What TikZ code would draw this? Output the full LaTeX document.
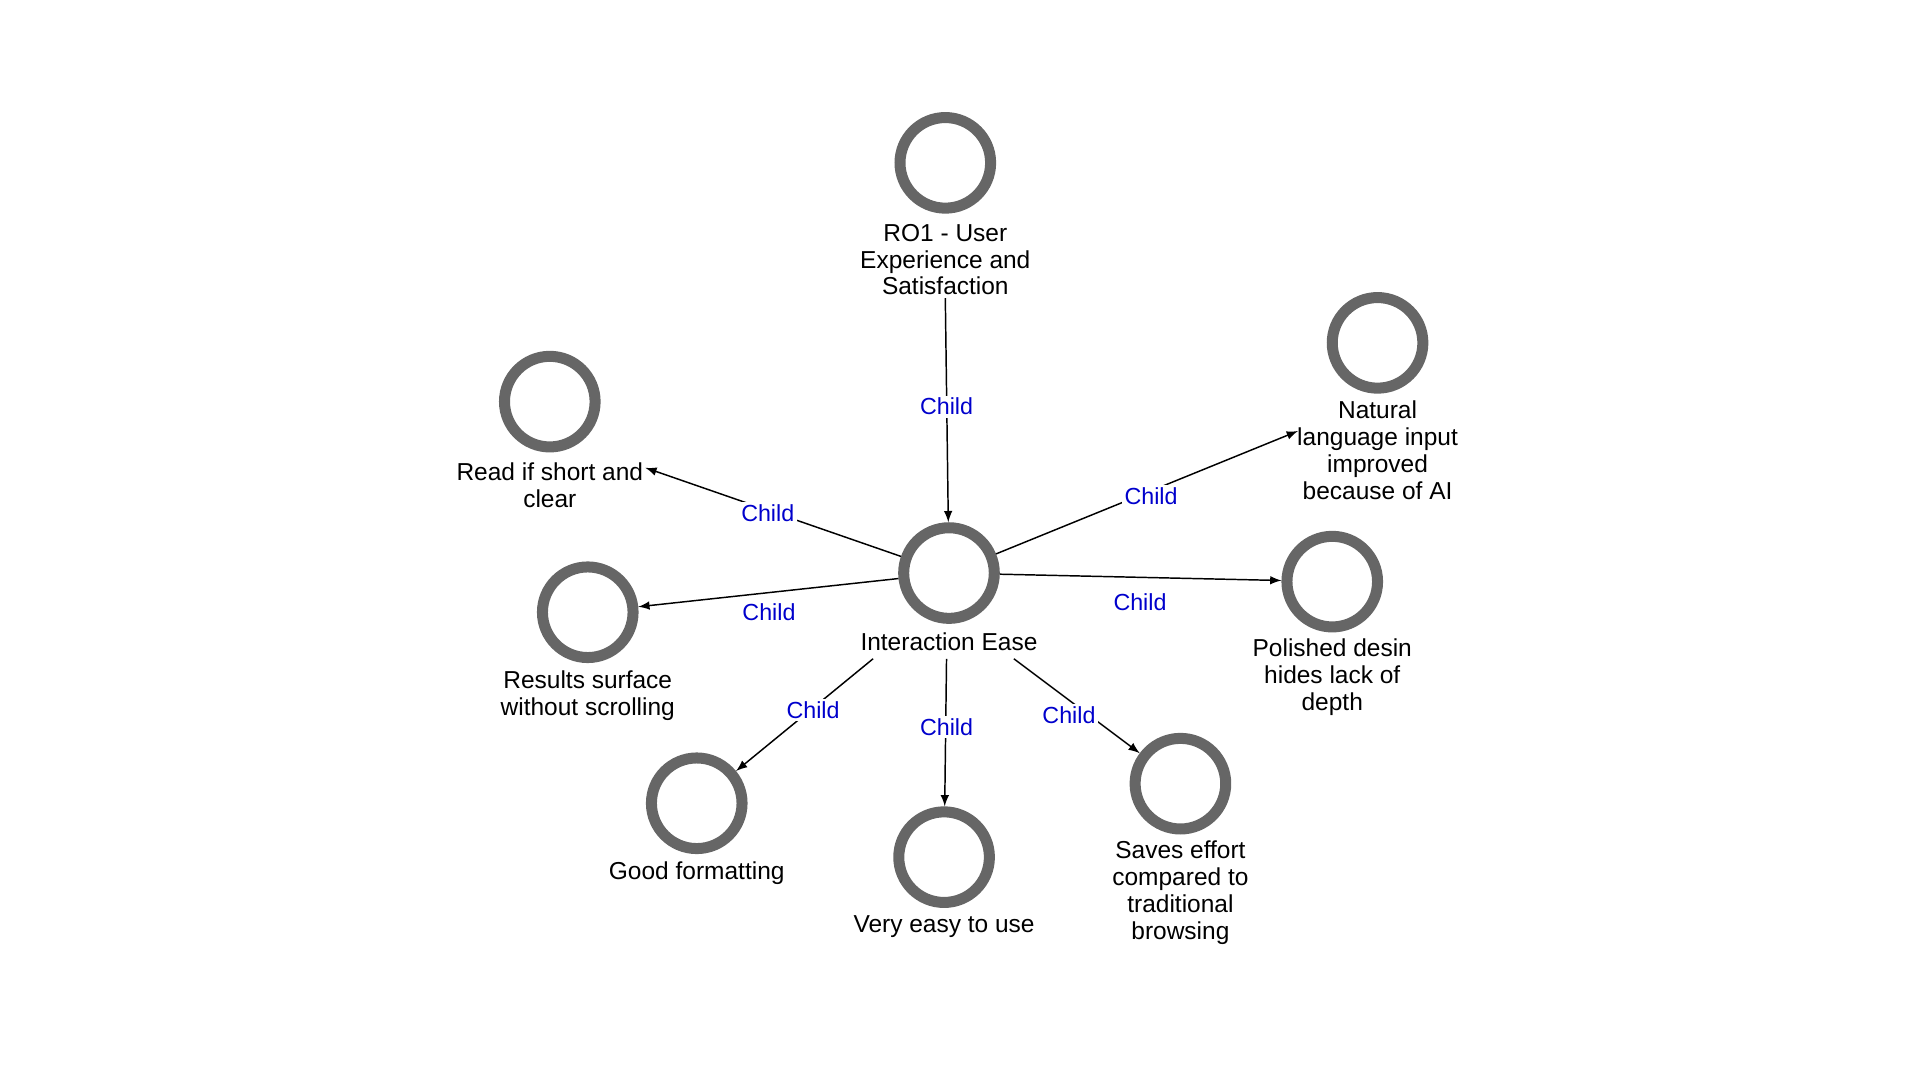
\documentclass[tikz,border=0pt]{standalone}
\usepackage{fontspec}
\setmainfont{Liberation Sans}
\begin{document}
\begin{tikzpicture}[x=0.5pt,y=-0.5pt,
 ring/.style={circle,draw={rgb,255:red,102;green,102;blue,102},line width=4.5pt,minimum size=37pt,inner sep=0pt},
 lab/.style={align=center,font=\fontsize{10}{11}\selectfont,inner sep=1pt},
 ch/.style={fill=white,text=blue!80!black,font=\fontsize{9.5}{11}\selectfont,inner sep=1pt},
 ar/.style={-latex,line width=0.6pt}]
\useasboundingbox (0,0) rectangle (1568,882);
\node[ring] (ro) at (772,133) {};
\node[lab] (rol) at (772,212) {RO1 - User\\Experience and\\Satisfaction};
\node[ring] (ie) at (775,468) {};
\node[lab] (iel) at (775,524) {Interaction Ease};
\node[ring] (rd) at (449,328) {};
\node[lab] (rdl) at (449,396) {Read if short and\\clear};
\node[ring] (nl) at (1125,280) {};
\node[lab] (nll) at (1125,368) {Natural\\language input\\improved\\because of AI};
\node[ring] (rs) at (480,500) {};
\node[lab] (rsl) at (480,568) {Results surface\\without scrolling};
\node[ring] (po) at (1088,475) {};
\node[lab] (pol) at (1088,553) {Polished desin\\hides lack of\\depth};
\node[ring] (gf) at (569,656) {};
\node[lab] (gfl) at (569,713) {Good formatting};
\node[ring] (ve) at (771,700) {};
\node[lab] (vel) at (771,757) {Very easy to use};
\node[ring] (sv) at (964,640) {};
\node[lab] (svl) at (964,729) {Saves effort\\compared to\\traditional\\browsing};

\draw[ar] (rol.south) -- (ie);
\draw[ar] (ie) -- (527,382) coordinate (rdend);
\draw[ar] (ie) -- (1060,352) coordinate (nlend);
\draw[ar] (ie) -- (rs);
\draw[ar] (ie) -- (po);
\draw[ar] (713,538) -- (gf);
\draw[ar] (773,538) -- (ve);
\draw[ar] (828,538) -- (sv);

\node[ch] at (773,332) {Child};
\node[ch] at (627,419) {Child};
\node[ch] at (940,405) {Child};
\node[ch] at (628,500) {Child};
\node[ch] at (931,492) {Child};
\node[ch] at (664,580) {Child};
\node[ch] at (773,594) {Child};
\node[ch] at (873,584) {Child};
\end{tikzpicture}
\end{document}
